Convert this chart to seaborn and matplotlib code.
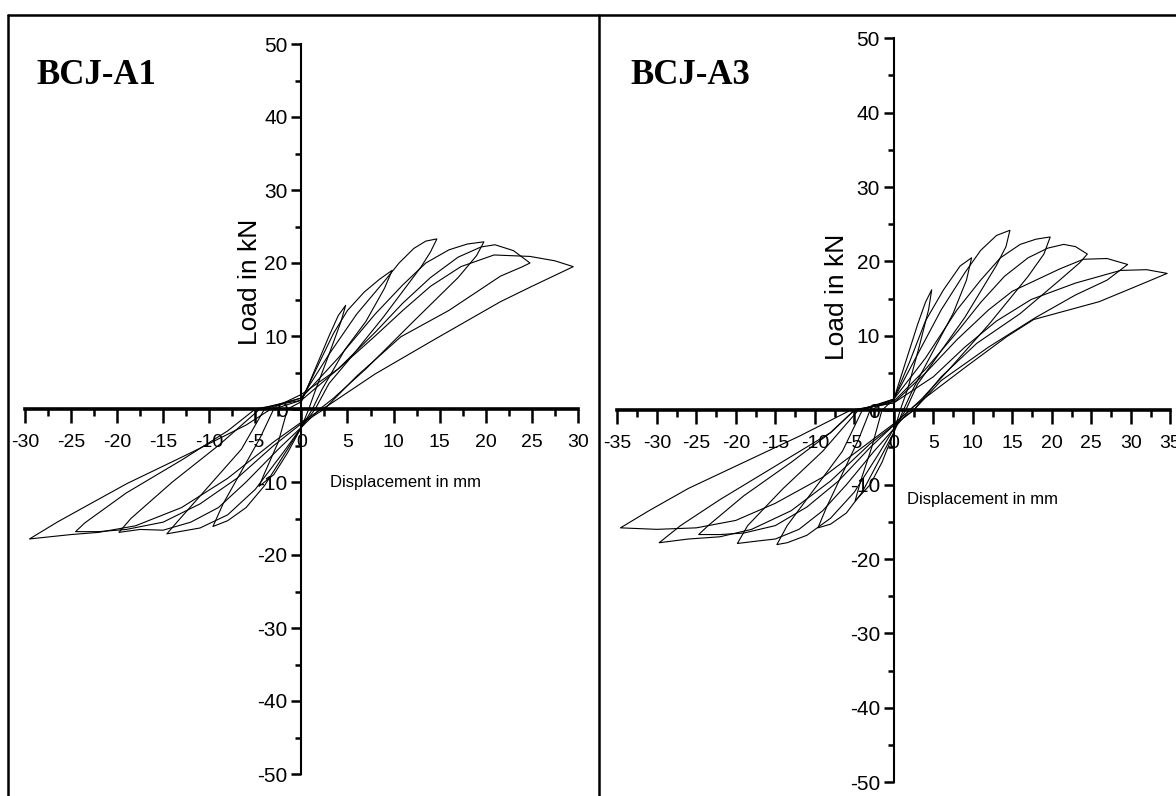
import matplotlib
matplotlib.use("Agg")
import matplotlib.pyplot as plt
from matplotlib.lines import Line2D
from matplotlib.ticker import MultipleLocator
import seaborn as sns
import pandas as pd

# ---------------- data: BCJ-A1 hysteresis cycles (displacement mm, load kN)
a1_disp_5 = [-1.5, 0, 1.5, 3.0, 4.0, 4.8, 4.3, 3.0, 1.5, 0.8, 0, -1.5, -3.0, -4.6, -4.0, -2.5, -1.5]
a1_load_5 = [0, 1.0, 5.5, 10.0, 12.8, 14.2, 12.0, 7.5, 2.5, 0, -2.5, -6.0, -9.0, -10.6, -8.8, -4.5, 0]
a1_disp_10 = [-3, 0, 2, 3.5, 5, 6.8, 8.5, 9.85, 9.0, 7.0, 4.7, 2.2, 1.2, 0, -2, -4, -6, -8, -9.6, -8.5, -6.5, -4.5, -3]
a1_load_10 = [0, 1.2, 6.5, 10.4, 13.5, 16.0, 17.8, 19.0, 16.5, 12.0, 8.1, 2.6, 0, -2.5, -6.5, -10.5, -13.5, -15.3, -16.1, -13, -8.5, -4, 0]
a1_disp_15 = [-4, 0, 3, 6, 9, 10.6, 12.2, 13.5, 14.7, 14.0, 13.0, 8.9, 5, 3, 1.5, 0, -2, -5, -8, -11, -14.6, -13.5, -10, -6.5, -4]
a1_load_15 = [0, 1.5, 7.5, 13, 17.5, 20.0, 22.0, 23.0, 23.3, 21.5, 19.5, 12.6, 6.5, 3.5, 0, -2.5, -6, -11, -14.5, -16.3, -17.1, -15.5, -10.5, -5.5, 0]
a1_disp_20 = [-4.5, 0, 4, 8, 11, 13.5, 16, 18, 19.8, 19, 17, 12, 7, 3.5, 2, 0, -2.5, -6, -9, -12, -15, -17.5, -19.8, -18.5, -14, -9, -4.5]
a1_load_20 = [0, 1.5, 7, 13, 17, 20, 21.8, 22.6, 22.9, 21, 18, 11.8, 5.5, 1.5, 0, -2.5, -5.5, -10, -13.5, -15.5, -16.6, -16.5, -16.9, -15, -10, -5, 0]
a1_disp_25 = [-5, 0, 4, 8, 11, 14, 17, 19.5, 21, 23, 24.8, 24, 21.6, 16, 10.8, 6, 2.5, 0, -3, -7, -11, -15, -19, -22, -24.5, -23.5, -19, -13, -8, -5]
a1_load_25 = [0, 1.2, 5.5, 10.5, 14.5, 18, 20.8, 22.2, 22.5, 21.7, 20.0, 19.5, 18.2, 13.5, 9.9, 4.5, 0, -2, -5, -9.5, -13, -15.5, -16.5, -16.8, -16.8, -15.6, -11.5, -7, -3, 0]
a1_disp_30 = [-3.3, 0, 4, 8, 11, 14, 17.3, 20.9, 24.8, 27.5, 29.5, 25, 21.6, 14.4, 8, 2.8, 2.2, 0, -3, -8, -13, -18, -22, -25, -29.5, -26.5, -23.5, -18.9, -12, -6, -3.3]
a1_load_30 = [0, 2.0, 5.5, 10, 13.5, 16.8, 19.5, 21.1, 20.9, 20.3, 19.5, 16.8, 14.7, 9.5, 4.8, 0.4, 0, -1.8, -4.5, -9.5, -13.5, -16, -16.9, -17.2, -17.8, -15.5, -13.4, -10.2, -6.0, -2.2, 0]

# ---------------- data: BCJ-A3 hysteresis cycles
a3_disp_5 = [-1.5, 0, 1.5, 3.0, 4.0, 4.8, 4.4, 3.2, 1.8, 0.8, 0, -1.5, -3.0, -4.9, -4.2, -2.8, -1.5]
a3_load_5 = [0, 1.5, 6.5, 11.5, 14.5, 16.2, 13.5, 8.5, 3.0, 0, -3.0, -7.0, -10.0, -12.2, -9.5, -5.0, 0]
a3_disp_10 = [-3, 0, 2, 4, 6.3, 8.4, 9.85, 9.2, 7.5, 5, 2.5, 1.2, 0, -2, -4, -6, -8, -9.6, -8.5, -6.5, -4.5, -3]
a3_load_10 = [0, 1.5, 6.5, 12, 16.2, 19.4, 20.5, 17.5, 13, 8, 3, 0, -3, -7, -11, -13.8, -15.3, -15.8, -13, -8.5, -4, 0]
a3_disp_15 = [-4, 0, 3, 6, 9, 11, 13, 14.7, 14.2, 13.0, 9, 5, 3, 1.5, 0, -2, -5, -8, -11, -13.5, -14.8, -13.5, -10, -6.5, -4]
a3_load_15 = [0, 1.5, 7.5, 13.5, 18.5, 21.5, 23.5, 24.2, 22, 19.5, 12.5, 6.5, 3.5, 0, -2.5, -6, -11, -14.5, -16.8, -17.8, -18.05, -15.5, -10.5, -5.5, 0]
a3_disp_20 = [-4.5, 0, 4, 8, 11, 13.5, 16, 18, 19.8, 19, 17, 12, 7, 3.5, 2, 0, -2.5, -6, -9, -12, -15, -17.5, -19.8, -18.5, -14, -9, -4.5]
a3_load_20 = [0, 1.5, 7, 13.5, 17.5, 20.5, 22.3, 23.0, 23.3, 21, 18, 11.5, 5.5, 1.5, 0, -2.5, -5.5, -10, -13.5, -16, -17.3, -17.6, -17.9, -15.5, -10.5, -5.5, 0]
a3_disp_25 = [-5, 0, 4, 8, 11, 14, 17, 19.5, 21.5, 23, 24.5, 23.5, 21, 16, 10.5, 6, 2.5, 0, -3, -7, -11, -15, -19, -22, -24.7, -23.5, -19, -13, -8, -5]
a3_load_25 = [0, 1.2, 5.5, 10.5, 14.5, 18, 20.5, 21.8, 22.3, 22.0, 21.0, 19.8, 17.5, 13, 9, 4.5, 0, -2, -5, -9.5, -13, -15.5, -16.5, -16.7, -16.7, -15.5, -11.5, -7, -3, 0]
a3_disp_30 = [-5, 0, 4, 8, 12, 15, 18, 21, 24, 27, 29.6, 27, 23, 18, 12, 6, 2.5, 0, -3, -8, -13, -18, -22, -26, -29.7, -27, -22, -15, -8, -5]
a3_load_30 = [0, 1.0, 5, 9.5, 13.5, 16, 17.5, 19, 20.3, 20.4, 19.6, 17.5, 15.5, 12.5, 8.5, 4, 0, -2, -4.5, -9.5, -13.5, -16.0, -17.0, -17.3, -17.8, -15.5, -12, -7.5, -3, 0]
a3_disp_35 = [-5.5, 0, 5, 9, 13, 17.4, 23, 28.7, 32, 34.6, 31, 26, 17.7, 14.3, 9.2, 2.5, 2, 0, -4, -9, -15, -20, -25, -30, -34.6, -31, -26, -19, -12, -5.5]
a3_load_35 = [0, 1, 4.5, 8.5, 12, 14.9, 17.1, 18.8, 18.9, 18.4, 16.8, 14.6, 12.2, 9.9, 5.9, 0.5, 0, -1.8, -5, -9, -12.5, -14.8, -15.8, -16.0, -15.8, -13.5, -10.5, -7, -3.5, 0]

titles = ["BCJ-A1", "BCJ-A3"]
x_label = "Displacement in mm"
y_label = "Load in kN"


def build(cycles):
    rows = []
    for name, (xs, ys) in cycles.items():
        for i, (x, y) in enumerate(zip(xs, ys)):
            rows.append({"cycle": name, "order": i, "disp": x, "load": y})
    return pd.DataFrame(rows)


df_a1 = build({
    "5": (a1_disp_5, a1_load_5), "10": (a1_disp_10, a1_load_10),
    "15": (a1_disp_15, a1_load_15), "20": (a1_disp_20, a1_load_20),
    "25": (a1_disp_25, a1_load_25), "30": (a1_disp_30, a1_load_30),
})
df_a3 = build({
    "5": (a3_disp_5, a3_load_5), "10": (a3_disp_10, a3_load_10),
    "15": (a3_disp_15, a3_load_15), "20": (a3_disp_20, a3_load_20),
    "25": (a3_disp_25, a3_load_25), "30": (a3_disp_30, a3_load_30),
    "35": (a3_disp_35, a3_load_35),
})

sns.set_theme(style="white")
sans = ["Liberation Sans", "DejaVu Sans"]
plt.rcParams["font.family"] = sans
plt.rcParams["axes.unicode_minus"] = False
plt.rcParams["text.color"] = "black"
plt.rcParams["xtick.color"] = "black"
plt.rcParams["ytick.color"] = "black"

W, H = 1176, 796
fig = plt.figure(figsize=(W / 100, H / 100), dpi=100)
fig.patch.set_facecolor("white")


def px_axes(x0, x1, y_top, y_bot):
    return fig.add_axes([x0 / W, 1 - y_bot / H, (x1 - x0) / W, (y_bot - y_top) / H])


ax1 = px_axes(24.9, 577.9, 44.0, 774.0)
ax2 = px_axes(617.3, 1170.3, 38.3, 782.3)

panels = [
    (ax1, df_a1, 30, (-5.6, 17.4), (3.1, -10.1)),
    (ax2, df_a3, 35, (-7.2, 15.3), (1.7, -12.0)),
]

for (ax, df, xmax, ylab_pos, xlab_pos), title in zip(panels, titles):
    ax.set_facecolor("none")
    sns.lineplot(data=df, x="disp", y="load", units="cycle", estimator=None,
                 sort=False, color="black", linewidth=0.8, ax=ax, legend=False)
    ax.set_xlim(-xmax, xmax)
    ax.set_ylim(-50, 50)
    ax.spines["left"].set_position(("data", 0))
    ax.spines["bottom"].set_position(("data", 0))
    ax.spines["top"].set_visible(False)
    ax.spines["right"].set_visible(False)
    ax.spines["bottom"].set_linewidth(2.6)
    ax.spines["left"].set_linewidth(1.5)
    for s in ("left", "bottom"):
        ax.spines[s].set_color("black")
    ax.xaxis.set_major_locator(MultipleLocator(5))
    ax.xaxis.set_minor_locator(MultipleLocator(2.5))
    ax.yaxis.set_major_locator(MultipleLocator(10))
    ax.yaxis.set_minor_locator(MultipleLocator(5))
    ax.tick_params(axis="x", which="major", direction="out", length=10, width=1.8,
                   labelsize=14, pad=8, colors="black", bottom=True)
    ax.tick_params(axis="x", which="minor", direction="out", length=5, width=1.8, bottom=True)
    ax.tick_params(axis="y", which="major", direction="out", length=7, width=1.8,
                   labelsize=15, pad=3, colors="black", left=True)
    ax.tick_params(axis="y", which="minor", direction="out", length=4, width=1.8, left=True)
    ax.set_xlabel("")
    ax.set_ylabel("")
    ax.text(ylab_pos[0], ylab_pos[1], y_label, rotation=90, ha="center", va="center",
            fontsize=19, color="black")
    ax.text(xlab_pos[0], xlab_pos[1], x_label, ha="left", va="center", fontsize=12,
            color="black")

for title, xpx in zip(titles, (36, 630)):
    fig.text(xpx / W, 1 - 75 / H, title, ha="left", va="center", fontsize=25,
             fontweight="bold", color="black",
             family=["Liberation Serif", "DejaVu Serif"])

# outer frame and panel divider
lw = 1.8
fig.add_artist(Line2D([8 / W, 1.0], [1 - 15 / H, 1 - 15 / H], transform=fig.transFigure,
                      color="black", linewidth=lw))
fig.add_artist(Line2D([8 / W, 8 / W], [0, 1 - 15 / H], transform=fig.transFigure,
                      color="black", linewidth=lw))
fig.add_artist(Line2D([599 / W, 599 / W], [0, 1 - 15 / H], transform=fig.transFigure,
                      color="black", linewidth=lw))

fig.savefig("out.png", dpi=100, facecolor="white")
